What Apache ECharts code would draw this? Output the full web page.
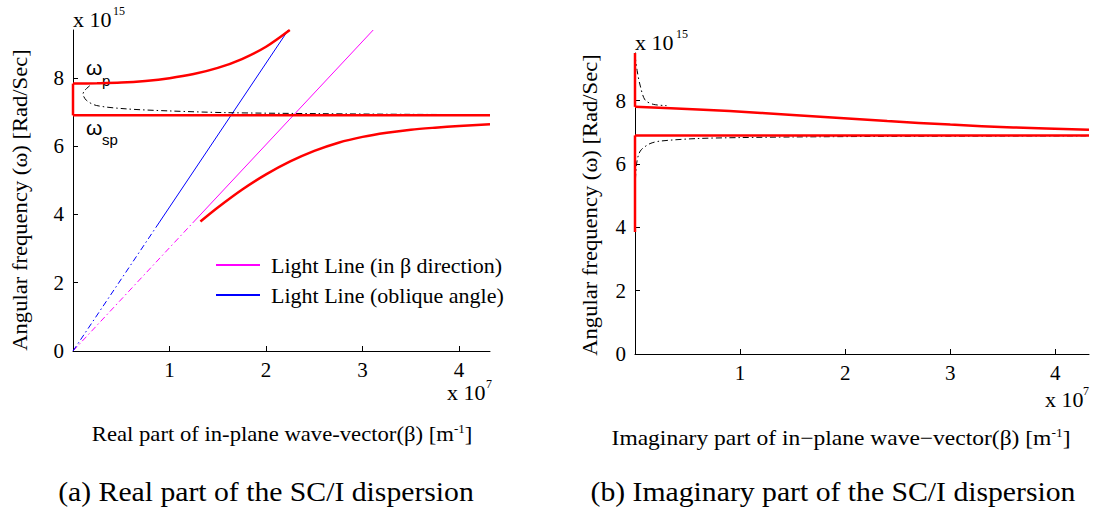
<!DOCTYPE html>
<html>
<head>
<meta charset="utf-8">
<script src="https://cdn.jsdelivr.net/npm/echarts@6/dist/echarts.min.js"></script>
<style>
  html, body { margin: 0; padding: 0; background: #fff; }
  #c { width: 1099px; height: 514px; }
</style>
</head>
<body>
<div id="c"></div>
<script>
// β in units of 1e7 m^-1, ω in units of 1e15 rad/s

// (a) real part of the dispersion
const realRectEdge   = [[0, 6.9], [0, 7.83]];
const realUpper      = [[0, 7.83], [0.25, 7.84], [0.5, 7.86], [0.75, 7.91], [1.0, 7.99], [1.25, 8.11], [1.5, 8.29], [1.75, 8.55], [2.0, 8.91], [2.246, 9.4]];
const realSP         = [[0, 6.9], [4.32, 6.9]];
const realLower      = [[1.32, 3.79], [1.5, 4.2], [1.75, 4.72], [2.0, 5.17], [2.25, 5.55], [2.5, 5.86], [2.75, 6.1], [3.0, 6.27], [3.25, 6.39], [3.5, 6.48], [3.75, 6.54], [4.0, 6.59], [4.32, 6.64]];
const realLossy      = [[0.174, 7.77], [0.121, 7.63], [0.104, 7.53], [0.139, 7.34], [0.242, 7.19], [0.553, 7.09], [1.0, 7.03], [1.59, 6.98], [2.56, 6.95], [3.5, 6.93], [4.32, 6.92]];
const lightBetaDash  = [[0, 0], [1.24, 3.75]];
const lightBetaSolid = [[1.24, 3.75], [3.11, 9.4]];
const lightObqDash   = [[0, 0], [0.89, 3.75]];
const lightObqSolid  = [[0.89, 3.75], [2.23, 9.4]];

// (b) imaginary part of the dispersion
const imagAxisLow    = [[0, 3.85], [0, 6.9]];
const imagAxisHigh   = [[0, 7.8], [0, 9.5]];
const imagUpper      = [[0, 7.8], [0.6, 7.72], [1.2, 7.61], [1.8, 7.48], [2.4, 7.35], [3.0, 7.24], [3.6, 7.15], [4.32, 7.08]];
const imagSP         = [[0, 6.9], [4.32, 6.9]];
const imagLossyHigh  = [[0.0, 9.43], [0.02, 8.95], [0.048, 8.49], [0.095, 8.02], [0.174, 7.88], [0.3, 7.84]];
const imagLossyLow   = [[0.004, 5.5], [0.015, 6.0], [0.035, 6.3], [0.063, 6.46], [0.143, 6.64], [0.24, 6.72], [0.59, 6.8], [1.0, 6.83], [1.5, 6.85], [2.5, 6.87], [3.5, 6.88], [4.32, 6.885]];

const yTicks = [0, 2, 4, 6, 8];
const xTicks = [1, 2, 3, 4];
const legendNames = ['Light Line (in β direction)', 'Light Line (oblique angle)'];

const SERIF = "'Liberation Serif', 'Times New Roman', serif";
const SANS = "'Liberation Sans', Arial, sans-serif";
const RED = '#ff0000';
const MAGENTA = '#ff00ff';
const BLUE = '#0000ff';
const DASHDOT = [6, 3, 1.5, 3];

function curve(name, data, color, width, type, idx, smooth) {
  return {
    type: 'line', name: name, data: data,
    xAxisIndex: idx, yAxisIndex: idx,
    showSymbol: false, symbol: 'none', clip: false, silent: true,
    smooth: smooth ? 0.3 : false,
    color: color,
    lineStyle: { color: color, width: width, type: type },
    z: 3
  };
}

function xAxisOf(idx, max) {
  return {
    type: 'value', gridIndex: idx, min: 0, max: max,
    axisLine: { show: true, onZero: false, lineStyle: { color: '#000', width: 1 } },
    axisTick: { show: true, inside: true, length: 5, customValues: xTicks, lineStyle: { color: '#000' } },
    axisLabel: { customValues: xTicks, color: '#000', fontFamily: SERIF, fontSize: 21, margin: 8 },
    splitLine: { show: false }
  };
}
function yAxisOf(idx, max) {
  return {
    type: 'value', gridIndex: idx, min: 0, max: max,
    axisLine: { show: true, onZero: false, lineStyle: { color: '#000', width: 1 } },
    axisTick: { show: true, inside: true, length: 5, customValues: yTicks, lineStyle: { color: '#000' } },
    axisLabel: { customValues: yTicks, color: '#000', fontFamily: SERIF, fontSize: 21, margin: 9 },
    splitLine: { show: false }
  };
}

function txt(x, y, text, size, opts) {
  const o = opts || {};
  return {
    type: 'text', x: x, y: y, rotation: o.rotation || 0, scaleX: o.scaleX || 1, silent: true,
    style: {
      text: text, fontFamily: o.family || SERIF, fontSize: size, fill: '#000',
      textAlign: o.align || 'left', textVerticalAlign: 'middle',
      rich: o.rich
    }
  };
}
const supRich = { s: { fontFamily: SERIF, fontSize: 12, verticalAlign: 'top', fill: '#000' } };

const chart = echarts.init(document.getElementById('c'), null, { renderer: 'svg', width: 1099, height: 514 });

chart.setOption({
  animation: false,
  backgroundColor: '#fff',
  grid: [
    { left: 73, top: 30, width: 417, height: 321 },
    { left: 635, top: 53, width: 454, height: 301 }
  ],
  xAxis: [xAxisOf(0, 4.32), xAxisOf(1, 4.32)],
  yAxis: [yAxisOf(0, 9.4), yAxisOf(1, 9.5)],
  legend: {
    data: legendNames,
    orient: 'vertical', left: 211, top: 249, itemGap: 8,
    icon: 'rect', itemWidth: 44, itemHeight: 2,
    selectedMode: false,
    textStyle: { fontFamily: SERIF, fontSize: 22, color: '#000', padding: [0, 0, 0, 6] }
  },
  series: [
    curve(legendNames[0], lightBetaSolid, MAGENTA, 1, 'solid', 0, false),
    curve(legendNames[0] + ' ', lightBetaDash, MAGENTA, 1, DASHDOT, 0, false),
    curve(legendNames[1], lightObqSolid, BLUE, 1, 'solid', 0, false),
    curve(legendNames[1] + ' ', lightObqDash, BLUE, 1, DASHDOT, 0, false),
    curve('lossy-a', realLossy, '#000', 1, DASHDOT, 0, true),
    curve('edge-a', realRectEdge, RED, 2.5, 'solid', 0, false),
    curve('upper-a', realUpper, RED, 2.5, 'solid', 0, true),
    curve('sp-a', realSP, RED, 2.5, 'solid', 0, false),
    curve('lower-a', realLower, RED, 2.5, 'solid', 0, true),

    curve('lossy-b-high', imagLossyHigh, '#000', 1, DASHDOT, 1, true),
    curve('lossy-b-low', imagLossyLow, '#000', 1, DASHDOT, 1, true),
    curve('axis-b-low', imagAxisLow, RED, 2.5, 'solid', 1, false),
    curve('axis-b-high', imagAxisHigh, RED, 2.5, 'solid', 1, false),
    curve('upper-b', imagUpper, RED, 2.5, 'solid', 1, true),
    curve('sp-b', imagSP, RED, 2.5, 'solid', 1, false)
  ],
  graphic: [
    // exponent labels
    txt(73, 19, 'x 10', 22),
    txt(113, 11, '15', 12),
    txt(447, 392, 'x 10', 22),
    txt(486, 384, '7', 12),
    txt(635, 42, 'x 10', 22),
    txt(676, 34, '15', 12),
    txt(1045, 399, 'x 10', 22),
    txt(1083, 391, '7', 12),

    // ω_p and ω_sp markers
    txt(86, 67, 'ω', 21, { family: SANS }),
    txt(102, 80, 'p', 15, { family: SANS }),
    txt(86, 127, 'ω', 21, { family: SANS }),
    txt(102, 139, 'sp', 15, { family: SANS }),

    // axis titles
    txt(20, 200, 'Angular frequency (ω) [Rad/Sec]', 20, { align: 'center', rotation: Math.PI / 2, scaleX: 1.13 }),
    txt(590, 205, 'Angular frequency (ω) [Rad/Sec]', 20, { align: 'center', rotation: Math.PI / 2, scaleX: 1.13 }),
    txt(282, 434, 'Real part of in-plane wave-vector(β) [m{s|-1}]', 21, { align: 'center', rich: supRich, scaleX: 1.08 }),
    txt(841, 438, 'Imaginary part of in−plane wave−vector(β) [m{s|-1}]', 21, { align: 'center', rich: supRich, scaleX: 1.12 }),

    // captions
    txt(266, 492, '(a) Real part of the SC/I dispersion', 27, { align: 'center', scaleX: 1.1 }),
    txt(833, 492, '(b) Imaginary part of the SC/I dispersion', 27, { align: 'center', scaleX: 1.1 })
  ]
});
</script>
</body>
</html>
